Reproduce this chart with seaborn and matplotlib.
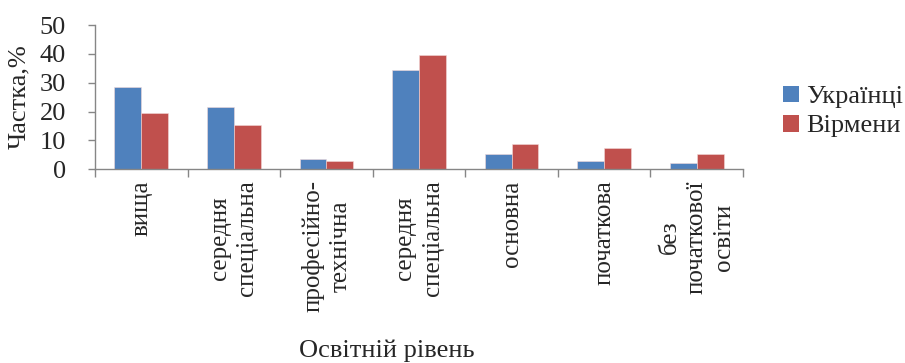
import matplotlib
matplotlib.use("Agg")
import matplotlib.pyplot as plt
import seaborn as sns
import pandas as pd
from matplotlib.ticker import FixedLocator

# ----------------------------------------------------------------------
# Data
# ----------------------------------------------------------------------
categories = [
    "вища",
    "середня\nспеціальна",
    "професійно-\nтехнічна",
    "середня\nспеціальна",
    "основна",
    "початкова",
    "без\nпочаткової\nосвіти",
]
ukrainians = [28.4, 21.5, 3.6, 34.3, 5.4, 3.0, 2.1]
armenians = [19.5, 15.2, 2.8, 39.6, 8.9, 7.5, 5.3]
series_names = ["Українці", "Вірмени"]
colors = ["#4F81BD", "#C0504D"]

# categories repeat, so key the rows by position
df = pd.DataFrame({
    "pos": list(range(len(categories))) * 2,
    "value": ukrainians + armenians,
    "group": [series_names[0]] * len(categories) + [series_names[1]] * len(categories),
})

# ----------------------------------------------------------------------
# Plot
# ----------------------------------------------------------------------
sns.set_style("white")
plt.rcParams["font.family"] = ["Liberation Serif", "DejaVu Serif"]

fig = plt.figure(figsize=(9.05, 3.63), dpi=100)
ax = fig.add_axes([0.105, 0.534, 0.716, 0.397])

sns.barplot(data=df, x="pos", y="value", hue="group", palette=colors,
            width=0.58, gap=0, saturation=1, ax=ax,
            edgecolor="#f2d9d9", linewidth=0.4)

ax.set_ylim(0, 50)
ax.set_xlim(-0.5, len(categories) - 0.5)
ax.set_yticks(range(0, 51, 10))
ax.tick_params(axis="y", labelsize=19, length=5, color="#868686", width=1, pad=16, left=True)

# category labels at centres, tick marks at the boundaries
ax.set_xticks(range(len(categories)))
ax.set_xticklabels(categories, rotation=90, fontsize=18, va="top", ha="center",
                   linespacing=1.3)
ax.tick_params(axis="x", which="major", length=0, pad=8)
ax.xaxis.set_minor_locator(FixedLocator([i - 0.5 for i in range(len(categories) + 1)]))
ax.tick_params(axis="x", which="minor", length=6, color="#868686", width=1, bottom=True)

for side in ["top", "right"]:
    ax.spines[side].set_visible(False)
for side in ["left", "bottom"]:
    ax.spines[side].set_color("#868686")
    ax.spines[side].set_linewidth(1)

ax.set_ylabel("Частка,%", fontsize=19)
ax.yaxis.set_label_coords(-0.1, 0.5)
ax.set_xlabel("Освітній рівень", fontsize=19)
ax.xaxis.set_label_coords(0.45, -1.18)

leg = ax.legend(loc="center left", bbox_to_anchor=(1.045, 0.4), frameon=False,
                fontsize=19, handlelength=0.6, handleheight=0.6,
                handletextpad=0.3, labelspacing=0.25, borderaxespad=0)
for h in leg.legend_handles:
    h.set_edgecolor("none")

fig.savefig("out.png", dpi=100)
